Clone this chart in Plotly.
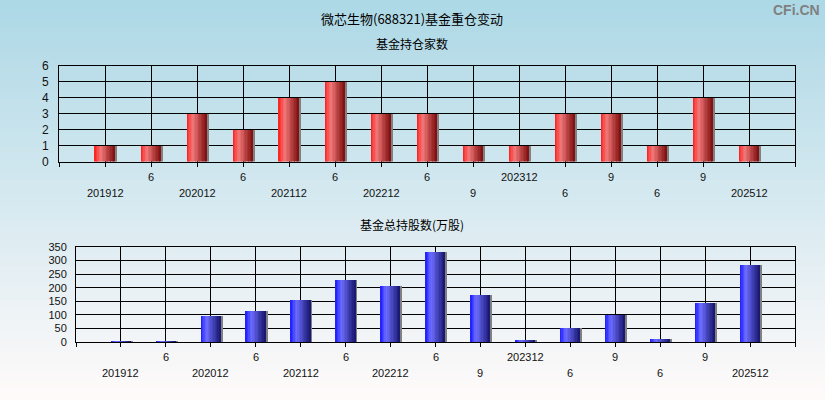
import plotly.graph_objects as go

# ---------------- data ----------------
periods = ["201912", "202006", "202012", "202106", "202112", "202206", "202212",
           "202306", "202309", "202312", "202406", "202409", "202506", "202509", "202512"]
tick_labels = ["201912", "6", "202012", "6", "202112", "6", "202212",
               "6", "9", "202312", "6", "9", "6", "9", "202512"]
fund_count = [1, 1, 3, 2, 4, 5, 3, 3, 1, 1, 3, 3, 1, 4, 1]
fund_shares = [3.5, 3, 97, 114, 155, 228, 206, 331, 173, 8, 51, 100, 12, 144, 283]

main_title = "微芯生物(688321)基金重仓变动"
sub_title_1 = "基金持仓家数"
sub_title_2 = "基金总持股数(万股)"
watermark = "CFi.CN"

# ---------------- styling ----------------
W, H = 825, 400
positions = list(range(1, len(periods) + 1))
BAR_W = 0.435
N_STRIPS = 14


def lerp(c1, c2, t):
    return tuple(round(a + (b - a) * t) for a, b in zip(c1, c2))


def grad_color(stops, t):
    for (t0, c0), (t1, c1) in zip(stops, stops[1:]):
        if t <= t1:
            return "rgb(%d,%d,%d)" % lerp(c0, c1, (t - t0) / (t1 - t0))
    return "rgb(%d,%d,%d)" % stops[-1][1]


red_stops = [(0.0, (255, 25, 25)), (0.3, (242, 120, 120)), (1.0, (125, 12, 12))]
blue_stops = [(0.0, (25, 25, 255)), (0.3, (110, 110, 255)), (1.0, (22, 22, 110))]

fig = go.Figure()


def add_bars(values, stops, xa, ya, slot_px):
    shadow_w = 2.0 / slot_px
    fig.add_trace(go.Bar(x=positions, y=values, width=shadow_w, offset=BAR_W / 2,
                         marker=dict(color="rgb(128,128,128)", line=dict(width=0)),
                         xaxis=xa, yaxis=ya, hoverinfo="skip", showlegend=False))
    sw = BAR_W / N_STRIPS
    for k in range(N_STRIPS):
        t = (k + 0.5) / N_STRIPS
        fig.add_trace(go.Bar(x=positions, y=values, width=sw * 1.08,
                             offset=-BAR_W / 2 + k * sw,
                             marker=dict(color=grad_color(stops, t), line=dict(width=0)),
                             xaxis=xa, yaxis=ya, hoverinfo="skip", showlegend=False))


top_dom_x = [59 / W, 795 / W]
top_dom_y = [1 - 161.5 / H, 1 - 66 / H]
bot_dom_x = [76 / W, 795 / W]
bot_dom_y = [1 - 342 / H, 1 - 247 / H]

add_bars(fund_count, red_stops, "x", "y", 46.0)
add_bars(fund_shares, blue_stops, "x2", "y2", 45.0)

nslots = len(periods) + 1
xaxis_common = dict(range=[0, nslots], tickvals=list(range(0, nslots + 1)),
                    showticklabels=False, ticks="outside", ticklen=4, tickcolor="black",
                    showgrid=True, gridcolor="black", gridwidth=1,
                    showline=True, linecolor="black", linewidth=1, mirror=True,
                    zeroline=False, fixedrange=True, automargin=False)

fig.update_layout(
    width=W, height=H,
    autosize=False,
    margin=dict(l=0, r=0, t=0, b=0, pad=0),
    paper_bgcolor="rgb(173,216,230)",
    plot_bgcolor="rgba(0,0,0,0)",
    barmode="overlay",
    bargap=0,
    showlegend=False,
    xaxis=dict(domain=top_dom_x, anchor="y", **xaxis_common),
    xaxis2=dict(domain=bot_dom_x, anchor="y2", **xaxis_common),
    yaxis=dict(domain=top_dom_y, anchor="x", range=[0, 6], dtick=1, tick0=0,
               ticks="outside", ticklen=7, tickcolor="rgba(0,0,0,0)",
               tickfont=dict(family="Liberation Sans", size=12, color="#111"),
               showgrid=True, gridcolor="black", gridwidth=1,
               showline=True, linecolor="black", linewidth=1, mirror=True,
               zeroline=False, fixedrange=True, automargin=False),
    yaxis2=dict(domain=bot_dom_y, anchor="x2", range=[0, 350], dtick=50, tick0=0,
                ticks="outside", ticklen=6, tickcolor="rgba(0,0,0,0)",
                tickfont=dict(family="Liberation Sans", size=11, color="#111"),
                showgrid=True, gridcolor="black", gridwidth=1,
                showline=True, linecolor="black", linewidth=1, mirror=True,
                zeroline=False, fixedrange=True, automargin=False),
)

# background gradient
n_bg = 60
top_c = (173, 216, 230)
bot_c = (255, 250, 250)
for i in range(n_bg):
    t = i / (n_bg - 1)
    c = lerp(top_c, bot_c, t)
    fig.add_shape(type="rect", xref="paper", yref="paper", layer="below",
                  x0=0, x1=1, y0=1 - (i + 1) / n_bg - 0.002, y1=1 - i / n_bg,
                  fillcolor="rgb(%d,%d,%d)" % c, line=dict(width=0))

# category labels in two alternating rows
for xa, dom in (("x", top_dom_y), ("x2", bot_dom_y)):
    for i, lab in enumerate(tick_labels):
        shift = -31 if i % 2 == 0 else -15
        fig.add_annotation(x=positions[i], xref=xa, y=dom[0], yref="paper",
                           text=lab, showarrow=False, yanchor="middle", yshift=shift,
                           font=dict(family="Liberation Sans", size=11, color="#111"))

title_font = dict(family="Noto Sans CJK SC", size=13, color="black")
fig.add_annotation(x=412 / W, y=1 - 18 / H, xref="paper", yref="paper", text=main_title,
                   showarrow=False, xanchor="center", yanchor="middle", font=title_font)
fig.add_annotation(x=412 / W, y=1 - 43 / H, xref="paper", yref="paper", text=sub_title_1,
                   showarrow=False, xanchor="center", yanchor="middle",
                   font=dict(family="Noto Sans CJK SC", size=12, color="black"))
fig.add_annotation(x=412 / W, y=1 - 224 / H, xref="paper", yref="paper", text=sub_title_2,
                   showarrow=False, xanchor="center", yanchor="middle",
                   font=dict(family="Noto Sans CJK SC", size=12, color="black"))
fig.add_annotation(x=822 / W, y=1 - 10 / H, xref="paper", yref="paper", text="<b>%s</b>" % watermark,
                   showarrow=False, xanchor="right", yanchor="middle",
                   font=dict(family="Liberation Sans", size=14, color="rgb(128,128,128)"))

fig.write_html("out.html", config={"displayModeBar": False},
               post_script="document.body.style.margin='0px';document.body.style.padding='0px';document.body.style.overflow='hidden';")
